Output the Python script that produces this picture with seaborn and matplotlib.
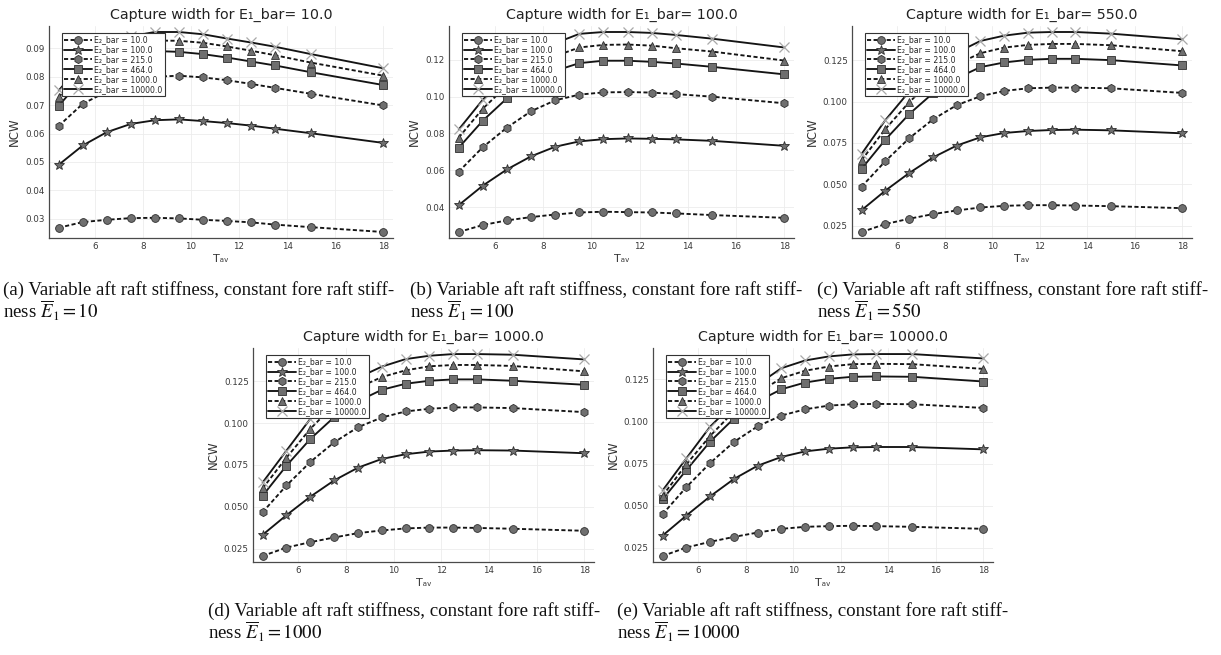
import matplotlib
matplotlib.use("Agg")
import matplotlib.pyplot as plt
from matplotlib.ticker import MultipleLocator, FormatStrFormatter
from matplotlib.lines import Line2D
import pandas as pd
import seaborn as sns

# Average wave period (x axis) and aft-raft stiffness levels (one curve each)
T_AV = [4.5, 5.5, 6.5, 7.5, 8.5, 9.5, 10.5, 11.5, 12.5, 13.5, 15.0, 18.0]
E2_BAR = [10.0, 100.0, 215.0, 464.0, 1000.0, 10000.0]
E1_BAR = [10.0, 100.0, 550.0, 1000.0, 10000.0]
E1_CAPTION = ["10", "100", "550", "1000", "10000"]
PANEL_TAGS = ["(a)", "(b)", "(c)", "(d)", "(e)"]

# Normalised capture width, one row per E2_BAR value
ncw_e1_10 = [
    [0.0268, 0.0288, 0.0296, 0.0302, 0.0303, 0.0301, 0.0296, 0.0292, 0.0287, 0.0279, 0.0270, 0.0253],
    [0.0490, 0.0558, 0.0605, 0.0634, 0.0647, 0.0650, 0.0644, 0.0637, 0.0628, 0.0617, 0.0601, 0.0567],
    [0.0627, 0.0705, 0.0748, 0.0782, 0.0800, 0.0804, 0.0798, 0.0788, 0.0775, 0.0761, 0.0740, 0.0699],
    [0.0698, 0.0795, 0.0848, 0.0876, 0.0891, 0.0888, 0.0880, 0.0868, 0.0854, 0.0840, 0.0816, 0.0771],
    [0.0728, 0.0825, 0.0885, 0.0912, 0.0928, 0.0927, 0.0920, 0.0907, 0.0892, 0.0876, 0.0850, 0.0804],
    [0.0752, 0.0850, 0.0910, 0.0943, 0.0958, 0.0958, 0.0950, 0.0935, 0.0921, 0.0906, 0.0880, 0.0830],
]
ncw_e1_100 = [
    [0.0265, 0.0303, 0.0328, 0.0346, 0.0360, 0.0371, 0.0375, 0.0373, 0.0371, 0.0366, 0.0357, 0.0342],
    [0.0411, 0.0517, 0.0605, 0.0676, 0.0728, 0.0757, 0.0769, 0.0773, 0.0771, 0.0768, 0.0760, 0.0733],
    [0.0593, 0.0726, 0.0832, 0.0921, 0.0980, 0.1011, 0.1023, 0.1025, 0.1022, 0.1014, 0.1000, 0.0964],
    [0.0723, 0.0870, 0.0991, 0.1080, 0.1140, 0.1182, 0.1195, 0.1195, 0.1189, 0.1180, 0.1162, 0.1121],
    [0.0778, 0.0935, 0.1060, 0.1150, 0.1220, 0.1267, 0.1281, 0.1283, 0.1277, 0.1263, 0.1245, 0.1196],
    [0.0822, 0.0984, 0.1110, 0.1210, 0.1290, 0.1341, 0.1351, 0.1351, 0.1346, 0.1335, 0.1315, 0.1267],
]
ncw_e1_550 = [
    [0.0212, 0.0260, 0.0292, 0.0320, 0.0342, 0.0360, 0.0370, 0.0374, 0.0374, 0.0372, 0.0368, 0.0356],
    [0.0344, 0.0462, 0.0568, 0.0662, 0.0734, 0.0784, 0.0810, 0.0822, 0.0828, 0.0830, 0.0826, 0.0808],
    [0.0486, 0.0640, 0.0778, 0.0892, 0.0978, 0.1032, 0.1064, 0.1080, 0.1084, 0.1084, 0.1080, 0.1052],
    [0.0594, 0.0770, 0.0924, 0.1050, 0.1140, 0.1208, 0.1236, 0.1252, 0.1258, 0.1258, 0.1250, 0.1218],
    [0.0646, 0.0834, 0.0996, 0.1130, 0.1225, 0.1292, 0.1326, 0.1342, 0.1348, 0.1348, 0.1340, 0.1304],
    [0.0684, 0.0888, 0.1060, 0.1195, 0.1295, 0.1366, 0.1398, 0.1416, 0.1420, 0.1420, 0.1410, 0.1376],
]
ncw_e1_1000 = [
    [0.0208, 0.0258, 0.0290, 0.0318, 0.0344, 0.0360, 0.0372, 0.0377, 0.0377, 0.0375, 0.0370, 0.0358],
    [0.0334, 0.0451, 0.0561, 0.0658, 0.0734, 0.0786, 0.0814, 0.0830, 0.0836, 0.0838, 0.0836, 0.0820],
    [0.0469, 0.0628, 0.0768, 0.0885, 0.0975, 0.1033, 0.1069, 0.1085, 0.1093, 0.1093, 0.1089, 0.1065],
    [0.0567, 0.0746, 0.0905, 0.1035, 0.1130, 0.1198, 0.1234, 0.1252, 0.1260, 0.1260, 0.1252, 0.1228],
    [0.0611, 0.0794, 0.0965, 0.1110, 0.1210, 0.1274, 0.1314, 0.1338, 0.1346, 0.1346, 0.1340, 0.1308],
    [0.0646, 0.0836, 0.1025, 0.1170, 0.1270, 0.1336, 0.1381, 0.1401, 0.1411, 0.1411, 0.1407, 0.1379],
]
ncw_e1_10000 = [
    [0.0202, 0.0252, 0.0286, 0.0315, 0.0341, 0.0363, 0.0375, 0.0379, 0.0381, 0.0379, 0.0375, 0.0363],
    [0.0323, 0.0442, 0.0556, 0.0659, 0.0738, 0.0790, 0.0823, 0.0839, 0.0847, 0.0849, 0.0849, 0.0835],
    [0.0450, 0.0611, 0.0754, 0.0879, 0.0972, 0.1036, 0.1073, 0.1095, 0.1103, 0.1105, 0.1103, 0.1081],
    [0.0538, 0.0712, 0.0881, 0.1018, 0.1120, 0.1192, 0.1232, 0.1254, 0.1266, 0.1268, 0.1266, 0.1238],
    [0.0560, 0.0746, 0.0915, 0.1060, 0.1170, 0.1258, 0.1302, 0.1327, 0.1341, 0.1343, 0.1341, 0.1313],
    [0.0591, 0.0782, 0.0970, 0.1110, 0.1220, 0.1317, 0.1363, 0.1387, 0.1399, 0.1401, 0.1401, 0.1375],
]
PANEL_DATA = [ncw_e1_10, ncw_e1_100, ncw_e1_550, ncw_e1_1000, ncw_e1_10000]

# Per-curve styling: marker, dashed?, marker size
MARKERS = ["o", "*", "h", "s", "^", "x"]
DASHED = [True, False, True, False, True, False]
MSIZES = [5.6, 7.2, 5.9, 6.0, 6.2, 7.0]

sns.set_theme(style="white")
plt.rcParams["font.family"] = ["DejaVu Sans"]
plt.rcParams["mathtext.fontset"] = "stix"

# Long-form table for seaborn
rows = []
for e1, table in zip(E1_BAR, PANEL_DATA):
    for e2, values in zip(E2_BAR, table):
        for t, v in zip(T_AV, values):
            rows.append({"E1": e1, "E2": e2, "T": t, "NCW": v})
df = pd.DataFrame(rows)

fig = plt.figure(figsize=(12.21, 6.55), dpi=100)
W, H = 1221.0, 655.0


def px_axes(left, top, right, bottom):
    return [left / W, 1 - bottom / H, (right - left) / W, (bottom - top) / H]


axes_px = [
    (49, 26, 393, 238),
    (449, 26, 794, 238),
    (852, 26, 1192, 238),
    (253, 348, 594, 562),
    (653, 348, 993, 562),
]
y_steps = [0.01, 0.02, 0.025, 0.025, 0.025]
y_fmts = ["%.2f", "%.2f", "%.3f", "%.3f", "%.3f"]

LINE_C = "#141414"
FACE_C = "#6f6f6f"
EDGE_C = "#2e2e2e"
CROSS_C = "#a8a8a8"

for i, e1 in enumerate(E1_BAR):
    ax = fig.add_axes(px_axes(*axes_px[i]))
    sub = df[df["E1"] == e1]
    handles = []
    for j, e2 in enumerate(E2_BAR):
        d = sub[sub["E2"] == e2]
        ls = (0, (2.2, 1.3)) if DASHED[j] else "-"
        is_cross = MARKERS[j] == "x"
        face = CROSS_C if is_cross else FACE_C
        edge = CROSS_C if is_cross else EDGE_C
        width = 0.9 if is_cross else 0.6
        sns.lineplot(data=d, x="T", y="NCW", ax=ax, legend=False,
                     marker=MARKERS[j], markersize=MSIZES[j], linestyle=ls,
                     linewidth=1.35, color=LINE_C, markerfacecolor=face,
                     mec=edge, mew=width)
        handles.append(Line2D([], [], label=f"E\u2082_bar = {e2}",
                              marker=MARKERS[j], markersize=MSIZES[j],
                              linestyle=ls, linewidth=1.35, color=LINE_C,
                              markerfacecolor=face, markeredgecolor=edge,
                              markeredgewidth=width))

    ax.margins(x=0.03, y=0.03)
    ax.xaxis.set_major_locator(MultipleLocator(2))
    ax.yaxis.set_major_locator(MultipleLocator(y_steps[i]))
    ax.yaxis.set_major_formatter(FormatStrFormatter(y_fmts[i]))
    ax.grid(True, color="#ececec", linewidth=0.6)
    for side in ("top", "right"):
        ax.spines[side].set_visible(False)
    for side in ("left", "bottom"):
        ax.spines[side].set_color("#4a4a4a")
        ax.spines[side].set_linewidth(0.9)
    ax.tick_params(axis="both", labelsize=6.3, labelcolor="#3a3a3a", length=2,
                   direction="in", color="#4a4a4a", pad=3)
    ax.set_xlabel("T\u2090\u1d65", fontsize=8, color="#333333", labelpad=2)
    ax.set_ylabel("NCW", fontsize=8.5, color="#333333", labelpad=3)
    ax.set_title(f"Capture width for E\u2081_bar= {e1}", fontsize=10.3,
                 color="#222222", pad=5)

    left, top, right, bottom = axes_px[i]
    leg = ax.legend(handles=handles, loc="upper left",
                    bbox_to_anchor=(12.5 / (right - left), 1 - 7 / (bottom - top)),
                    borderaxespad=0, fontsize=5.6, handlelength=3.6,
                    handletextpad=0.3, labelspacing=0.12, borderpad=0.3,
                    fancybox=False, framealpha=1, edgecolor="#333333")
    leg.get_frame().set_linewidth(0.8)

# Sub-figure captions
cap_pos = [(3, 290), (410, 290), (817, 290), (208, 611), (617, 611)]
for (x, y), tag, e1s in zip(cap_pos, PANEL_TAGS, E1_CAPTION):
    fig.text(x / W, 1 - y / H,
             f"{tag} Variable aft raft stiffness, constant fore raft stiff-",
             fontsize=13.6, family="Liberation Serif", va="center", ha="left",
             color="#111111")
    fig.text(x / W, 1 - (y + 21) / H,
             "ness $\\overline{E}_1 = " + e1s + "$",
             fontsize=13.6, family="Liberation Serif", va="center", ha="left",
             color="#111111")

fig.savefig("out.png", dpi=100, facecolor="white")
